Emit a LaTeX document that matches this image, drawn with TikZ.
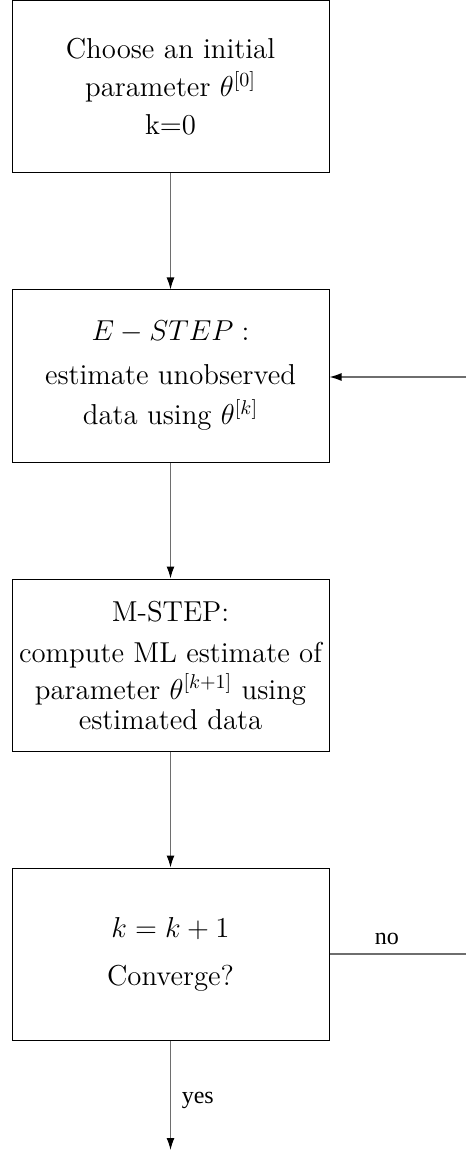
\documentclass[tikz,border=0pt]{standalone}
\usepackage{fontspec}
\newfontfamily\labelfont{Liberation Serif}
\usetikzlibrary{arrows.meta,positioning}
\definecolor{ink}{HTML}{000000}
\definecolor{wire}{HTML}{6E6E6E}

\begin{document}
\begin{tikzpicture}[
  font=\Large, color=ink, node distance=58pt,
  stepbox/.style={rectangle, draw=ink, line width=0.5pt, minimum width=158.5pt,
                  minimum height=86pt, inner sep=1pt, align=center},
  flow/.style={-{Latex[length=6pt, width=4pt, color=ink]}, line width=0.6pt, draw=wire},
  plain/.style={line width=0.6pt, draw=wire},
  lbl/.style={font={\labelfont\fontsize{12}{14}\selectfont}, text=ink},
]
\useasboundingbox (0,0) rectangle (233pt,-577pt);

% ---- steps of the loop ----
\node[stepbox] (init) at (85.25pt,-43.5pt)
  {Choose an initial\\[1pt] parameter $\theta^{[0]}$\\[1pt] k=0};
\node[stepbox] (estep) [below=of init]
  {$E-STEP:$\\[4pt] estimate unobserved\\[2pt] data using $\theta^{[k]}$};
\node[stepbox] (mstep) [below=of estep]
  {M-STEP:\\[3pt] compute ML estimate of\\[0pt] parameter $\theta^{[k+1]}$ using\\[-3pt] estimated data};
\node[stepbox] (conv) [below=of mstep]
  {$k=k+1$\\[6pt] Converge?};

% ---- free ends ----
\coordinate (done) at (conv.south |- 0,-575pt);
\coordinate (backin) at (233pt,-188.5pt);
\coordinate (backout) at (conv.east -| 233pt,0);

% ---- connectors ----
\draw[flow] (init) -- (estep);
\draw[flow] (estep) -- (mstep);
\draw[flow] (mstep) -- (conv);
\draw[flow] (conv) -- node[lbl, pos=0.55, right=2pt] {yes} (done);
\draw[plain] (conv.east) -- node[lbl, pos=0.42, above=1pt] {no} (backout);
\draw[flow] (backin) -- (estep.east |- backin);
\end{tikzpicture}
\end{document}
